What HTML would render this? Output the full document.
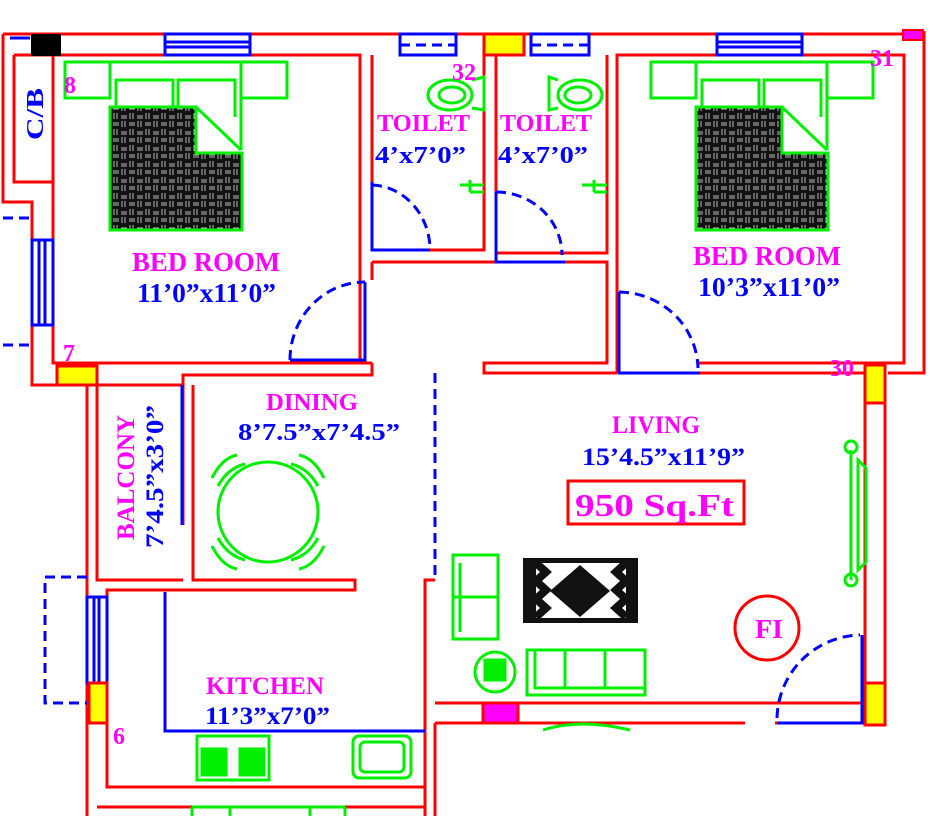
<!DOCTYPE html>
<html><head><meta charset="utf-8"><style>
html,body{margin:0;padding:0;background:#fff;width:930px;height:816px;overflow:hidden}
svg{display:block}
.r{stroke:#ff0000;stroke-width:3;fill:none}
.b{stroke:#0000ff;stroke-width:3;fill:none}
.bd{stroke:#0000ff;stroke-width:3;fill:none;stroke-dasharray:10 6}
.g{stroke:#00ee00;stroke-width:3;fill:none}
.t{font-family:"Liberation Serif",serif;font-weight:bold}
.m{fill:#ff00ff}
.bl{fill:#0000ff}
</style></head><body>
<svg width="930" height="816" viewBox="0 0 930 816" xmlns="http://www.w3.org/2000/svg">
<defs>
<pattern id="q" width="16" height="16" patternUnits="userSpaceOnUse">
<rect width="16" height="16" fill="#111"/>
<path d="M2 1v6M5 1v6M9 4h6M9 6h6M1 11h6M1 13h6M10 9v6M13 9v6" stroke="#bbb" stroke-width="1"/>
</pattern>
</defs>
<path class="r" d="M3 34H903M3 34V202H32V385H97"/>
<path class="r" d="M14 55H53V182H14V55M53 182V363H372"/>
<path class="r" d="M53 55H360V363M372 262V280M372 55V250H484V55M496 55V253H607V55M372 262H607V363H484V373H617"/>
<path class="r" d="M617 373V55H904V363H698M924 31V373H888M700 373H865"/>
<rect x="903" y="30" width="20" height="10" fill="#ff00ff" stroke="#ff0000" stroke-width="2"/>
<rect x="31" y="34" width="30" height="22" fill="#000"/>
<rect x="165" y="34" width="85" height="21" fill="#fff" stroke="#0000ff" stroke-width="3"/>
<path class="b" d="M165 42H250M165 47H250"/>
<rect x="400" y="34" width="56" height="21" fill="#fff" stroke="#0000ff" stroke-width="3"/>
<path class="bd" d="M400 45H456"/>
<rect x="484" y="34" width="40" height="21" fill="#ffff00" stroke="#ff0000" stroke-width="3"/>
<rect x="531" y="34" width="58" height="21" fill="#fff" stroke="#0000ff" stroke-width="3"/>
<path class="bd" d="M531 45H589"/>
<rect x="717" y="34" width="85" height="21" fill="#fff" stroke="#0000ff" stroke-width="3"/>
<path class="b" d="M717 42H802M717 47H802"/>
<rect x="32" y="240" width="21" height="85" fill="#fff" stroke="#0000ff" stroke-width="3"/>
<path class="b" d="M39 240V325M45 240V325"/>
<path class="bd" d="M3 218H32M3 345H32"/>
<path class="b" d="M10 38H30" />
<text class="t bl" font-size="24" textLength="52" lengthAdjust="spacingAndGlyphs" transform="translate(43,140) rotate(-90)">C/B</text>
<rect x="57" y="366" width="40" height="19" fill="#ffff00" stroke="#ff0000" stroke-width="3"/>
<path class="r" d="M97 366V385M87 385V816M97 385V580H183M183 385V525M193 385V580H355V590H107V787H425V580H435"/>
<path class="r" d="M97 385H183V375H372V363"/>
<path class="b" d="M182 385V525"/>
<path class="bd" d="M87 577H45V703H87"/>
<rect x="87" y="597" width="20" height="86" fill="#fff" stroke="#0000ff" stroke-width="3"/>
<path class="b" d="M94 597V683M99 597V683"/>
<rect x="89" y="683" width="18" height="40" fill="#ffff00" stroke="#ff0000" stroke-width="3"/>
<path class="b" d="M165 592V731H425"/>
<path class="r" d="M97 807H425M425 787V816M435 723V816"/>
<path class="g" d="M192 807H345M192 807V816M345 807V816M230 807V816M310 807V816"/>
<path class="bd" d="M435 373V580"/>
<path class="r" d="M865 365V725M885 365V725M435 703H865M435 723H745M775 723H865"/>
<rect x="865" y="365" width="20" height="38" fill="#ffff00" stroke="#ff0000" stroke-width="3"/>
<rect x="865" y="683" width="20" height="42" fill="#ffff00" stroke="#ff0000" stroke-width="3"/>
<rect x="483" y="703" width="35" height="20" fill="#ff00ff" stroke="#ff0000" stroke-width="3"/>
<path class="g" d="M543 730Q580 718 630 730"/>
<path class="b" d="M365 282V360H290"/><path class="bd" d="M290 360A75 78 0 0 1 365 282"/>
<path class="b" d="M372 182V250H430"/><path class="bd" d="M372 185A60 65 0 0 1 430 248"/>
<path class="b" d="M496 192V262H565"/><path class="bd" d="M496 192A66 63 0 0 1 562 255"/>
<path class="b" d="M619 292V373H700"/><path class="bd" d="M619 292A80 78 0 0 1 698 368"/>
<path class="b" d="M862 635V723H777"/><path class="bd" d="M777 718A85 85 0 0 1 860 635"/>
<g class="g">
<rect x="65" y="62" width="45" height="36"/><rect x="241" y="62" width="46" height="36"/>
<path d="M110 62H241V150M116 107V80H173V107M178 107V80H235V117"/><line x1="196" y1="107" x2="241" y2="150"/>
<rect x="651" y="62" width="45" height="36"/><rect x="827" y="62" width="46" height="36"/>
<path d="M696 62H827V150M702 107V80H759V107M764 107V80H821V117"/><line x1="782" y1="107" x2="827" y2="150"/>
</g>
<path d="M110 107H196V153H242V230H110Z" fill="url(#q)" stroke="#00ee00" stroke-width="3"/>
<path d="M696 107H782V153H828V230H696Z" fill="url(#q)" stroke="#00ee00" stroke-width="3"/>
<g class="g"><ellipse cx="450" cy="95" rx="22" ry="15"/><ellipse cx="452" cy="95" rx="13" ry="8"/><path d="M472 80L484 77V110L472 108"/>
<ellipse cx="580" cy="95" rx="22" ry="15"/><ellipse cx="578" cy="95" rx="13" ry="8"/><path d="M558 80L549 77V110L558 108"/>
<path d="M460 185H484M470 180V192M470 192H484"/><path d="M582 185H607M594 180V192M594 192H607"/></g>
<g class="g"><circle cx="268" cy="512" r="50"/>
<path d="M212 478Q222 458 237 455M218 486Q228 468 245 464"/>
<path d="M324 478Q314 458 299 455M318 486Q308 468 291 464"/>
<path d="M212 546Q222 566 237 569M218 538Q228 556 245 560"/>
<path d="M324 546Q314 566 299 569M318 538Q308 556 291 560"/></g>
<g class="g"><rect x="197" y="736" width="72" height="44"/><rect x="202" y="749" width="24" height="26" fill="#00ee00"/><rect x="240" y="749" width="24" height="26" fill="#00ee00"/>
<rect x="353" y="736" width="58" height="42" rx="6"/><rect x="360" y="742" width="44" height="30" rx="5"/></g>
<g class="g"><rect x="453" y="555" width="45" height="84"/><line x1="453" y1="597" x2="498" y2="597"/><line x1="460" y1="563" x2="460" y2="632"/>
<rect x="527" y="650" width="118" height="45"/><path d="M535 650V688H645M565 650V688M605 650V688"/>
<circle cx="495" cy="672" r="20"/><rect x="485" y="660" width="20" height="20" fill="#00ee00"/>
<path d="M851 450V580M858 460V570L866 562V468Z"/><circle cx="851" cy="447" r="6"/><circle cx="851" cy="580" r="6"/></g>
<rect x="523" y="558" width="115" height="65" fill="#111"/>
<rect x="536" y="563" width="90" height="55" fill="#fff"/>
<path d="M580 565L610 591L580 617L550 591Z" fill="#111"/>
<path d="M536 563l10 9-10 9 10 9-10 9 10 9-10 9M626 563l-10 9 10 9-10 9 10 9-10 9 10 9" stroke="#111" stroke-width="8" fill="none"/>
<circle cx="767" cy="628" r="32" fill="none" stroke="#ff0000" stroke-width="3"/>
<text class="t m" x="755" y="638" font-size="27" textLength="28" lengthAdjust="spacingAndGlyphs">FI</text>
<rect x="568" y="481" width="176" height="43" fill="none" stroke="#ff0000" stroke-width="3"/>
<text class="t m" x="575" y="516" font-size="32" textLength="159" lengthAdjust="spacingAndGlyphs">950 Sq.Ft</text>
<text class="t m" x="132" y="271" font-size="27" textLength="148" lengthAdjust="spacingAndGlyphs">BED ROOM</text>
<text class="t bl" x="137" y="302" font-size="27" textLength="139" lengthAdjust="spacingAndGlyphs">11’0”x11’0”</text>
<text class="t m" x="693" y="265" font-size="27" textLength="148" lengthAdjust="spacingAndGlyphs">BED ROOM</text>
<text class="t bl" x="698" y="296" font-size="27" textLength="142" lengthAdjust="spacingAndGlyphs">10’3”x11’0”</text>
<text class="t m" x="377" y="131" font-size="24" textLength="93" lengthAdjust="spacingAndGlyphs">TOILET</text>
<text class="t bl" x="375" y="163" font-size="24" textLength="91" lengthAdjust="spacingAndGlyphs">4’x7’0”</text>
<text class="t m" x="500" y="131" font-size="24" textLength="92" lengthAdjust="spacingAndGlyphs">TOILET</text>
<text class="t bl" x="498" y="163" font-size="24" textLength="90" lengthAdjust="spacingAndGlyphs">4’x7’0”</text>
<text class="t m" x="266" y="410" font-size="24" textLength="92" lengthAdjust="spacingAndGlyphs">DINING</text>
<text class="t bl" x="238" y="440" font-size="24" textLength="162" lengthAdjust="spacingAndGlyphs">8’7.5”x7’4.5”</text>
<text class="t m" x="612" y="433" font-size="25" textLength="88" lengthAdjust="spacingAndGlyphs">LIVING</text>
<text class="t bl" x="582" y="465" font-size="25" textLength="163" lengthAdjust="spacingAndGlyphs">15’4.5”x11’9”</text>
<text class="t m" x="206" y="694" font-size="25" textLength="118" lengthAdjust="spacingAndGlyphs">KITCHEN</text>
<text class="t bl" x="205" y="724" font-size="25" textLength="125" lengthAdjust="spacingAndGlyphs">11’3”x7’0”</text>
<text class="t m" font-size="25" textLength="125" lengthAdjust="spacingAndGlyphs" transform="translate(134,540) rotate(-90)">BALCONY</text>
<text class="t bl" font-size="25" textLength="143" lengthAdjust="spacingAndGlyphs" transform="translate(163,548) rotate(-90)">7’4.5”x3’0”</text>
<text class="t m" x="64" y="93" font-size="24">8</text>
<text class="t m" x="63" y="361" font-size="24">7</text>
<text class="t m" x="113" y="744" font-size="24">6</text>
<text class="t m" x="452" y="80" font-size="24">32</text>
<text class="t m" x="870" y="66" font-size="24">31</text>
<text class="t m" x="830" y="376" font-size="24">30</text>
</svg>
</body></html>
